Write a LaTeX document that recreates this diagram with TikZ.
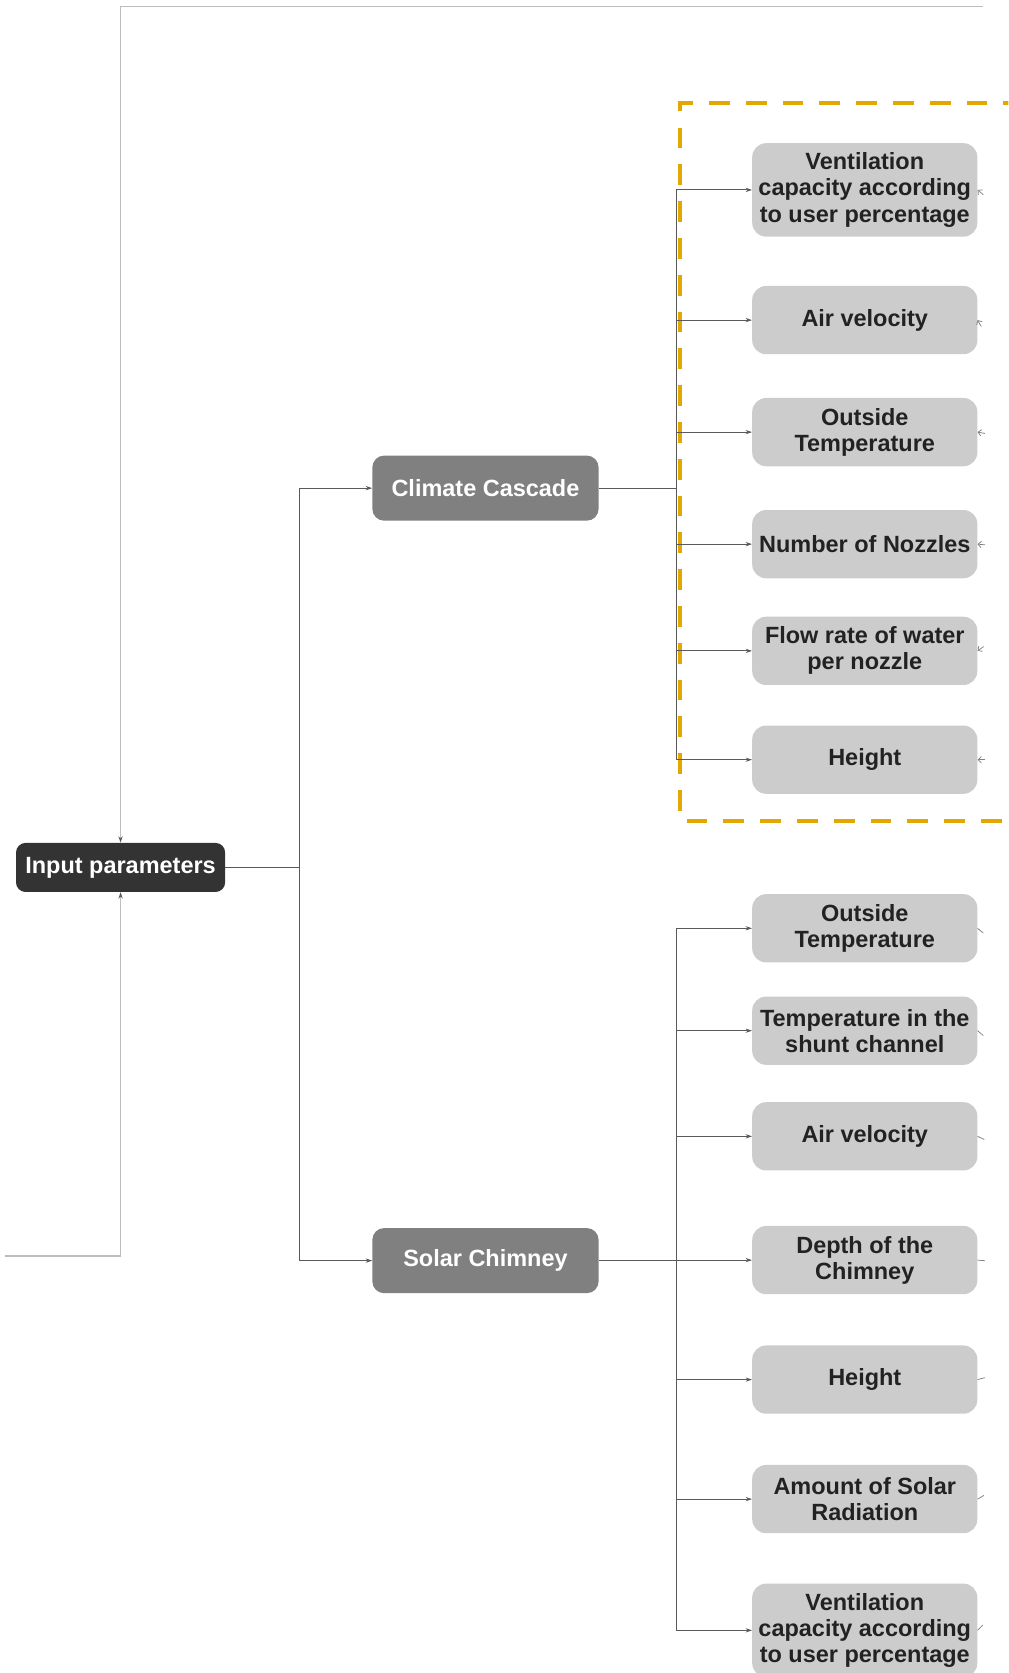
\documentclass[tikz,border=0pt]{standalone}
\usepackage{fontspec}
\setmainfont{Liberation Sans}
\usetikzlibrary{positioning,calc}
\usetikzlibrary{arrows.meta}
\definecolor{rootgray}{HTML}{333333}
\definecolor{branchgray}{HTML}{808080}
\definecolor{leafgray}{HTML}{CCCCCC}
\definecolor{leaftext}{HTML}{222222}
\definecolor{linkgray}{HTML}{5A5A5A}
\definecolor{loopgray}{HTML}{BDBDBD}
\definecolor{cascadeorange}{HTML}{E3A800}
\tikzset{
	tree root/.style={
		fill=rootgray, text=white,
		rounded corners=9,
		minimum width=196, minimum height=46, inner sep=0pt,
		font=\bfseries\fontsize{22}{24.5}\selectfont
	},
	tree branch/.style={
		fill=branchgray, text=white,
		rounded corners=11,
		minimum width=212, minimum height=61, inner sep=0pt,
		font=\bfseries\fontsize{22}{24.5}\selectfont
	},
	tree leaf/.style={
		fill=leafgray, text=leaftext,
		rounded corners=13,
		minimum width=211, minimum height=64,
		inner xsep=0pt, inner ysep=9pt,
		align=center,
		font=\bfseries\fontsize{22}{24.5}\selectfont
	},
	tree link/.style={
		draw=linkgray, line width=0.8pt
	},
	loop link/.style={
		draw=loopgray, line width=1.4pt
	},
	stub link/.style={
		draw=gray, line width=0.7pt
	},
	cascade frame/.style={
		draw=cascadeorange, line width=3.75pt,
		dash pattern=on 19.5pt off 15pt
	}
}

\begin{document}
\begin{tikzpicture}[x=1pt, y=-1pt, >={Stealth[length=6pt,width=4pt,color=linkgray]}]
	\useasboundingbox (0,0) rectangle (945,1568);
	\clip (0,0) rectangle (945,1568);
	
	% dashed frame round the cascade inputs
	\draw[cascade frame] (960,97) -| (637.5,769) -- (960,769);
	
	\node[tree root] (input) at (113,813) {Input parameters};
	\node[tree branch] (cascade) at (455,457.5) {Climate Cascade};
	\node[tree branch] (chimney) at (455,1181.5) {Solar Chimney};
	
	% feedback lines into the input node
	\coordinate (topend) at (921,6);
	\coordinate (leftend) at (5,1177);
	\draw[loop link, ->] (topend) -| (input.north);
	\draw[loop link, ->] (leftend) -| (input.south);
	
	\draw[tree link] (input.east) -- ++(69,0) coordinate (split);
	\draw[tree link, ->] (split) |- (cascade.west);
	\draw[tree link, ->] (split) |- (chimney.west);
	
	\draw[tree link] (cascade.east) -- ++(73,0) coordinate (cjoin);
	\draw[tree link] (chimney.east) -- ++(73,0) coordinate (sjoin);
	
	% Climate Cascade inputs
	\foreach \i/\j/\k/\a in {
		c1/178/{Ventilation\\capacity according\\to user percentage}/-40,
		c2/300/{Air velocity}/-60,
		c3/405/{Outside\\Temperature}/-10,
		c4/510/{Number of Nozzles}/-5,
		c5/610/{Flow rate of water\\per nozzle}/35,
		c6/712/{Height}/0} {
		\node[tree leaf] (\i) at (810.5,\j) {\k};
		\draw[tree link, ->] (cjoin) |- (\i.west);
		\draw[stub link, {Straight Barb[length=3pt]}-] (\i.east) -- ++(\a:7pt);
	}
	
	% Solar Chimney inputs
	\foreach \i/\j/\k/\a in {
		s1/870/{Outside\\Temperature}/-40,
		s2/966/{Temperature in the\\shunt channel}/-40,
		s3/1065/{Air velocity}/-25,
		s4/1181/{Depth of the\\Chimney}/-5,
		s5/1293/{Height}/15,
		s6/1405/{Amount of Solar\\Radiation}/30,
		s7/1528/{Ventilation\\capacity according\\to user percentage}/45} {
		\node[tree leaf] (\i) at (810.5,\j) {\k};
		\draw[tree link, ->] (sjoin) |- (\i.west);
		\draw[stub link] (\i.east) -- ++(\a:7pt);
	}
\end{tikzpicture}
\end{document}
